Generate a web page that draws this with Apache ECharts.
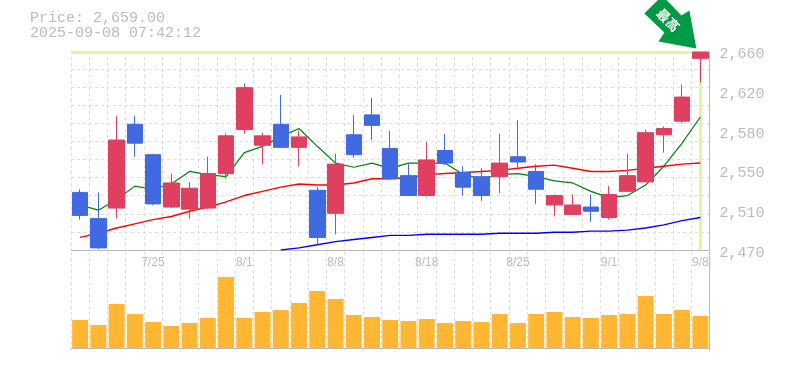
<!DOCTYPE html>
<html>
<head>
<meta charset="utf-8">
<style>html,body{margin:0;padding:0;background:#fff}#c{width:785px;height:370px}</style>
<script src="https://cdn.jsdelivr.net/npm/echarts@6/dist/echarts.min.js"></script>
</head>
<body>
<div id="c"></div>
<script>
const priceTitle = 'Price: 2,659.00';
const timeTitle = '2025-09-08 07:42:12';
const lastPrice = 2659;
const dates = ['7/18','7/22','7/23','7/24','7/25','7/28','7/29','7/30','7/31','8/1','8/4','8/5','8/6','8/7','8/8','8/12','8/13','8/14','8/15','8/18','8/19','8/20','8/21','8/22','8/25','8/26','8/27','8/28','8/29','9/1','9/2','9/3','9/4','9/5','9/8'];
const shownDates = ['7/25','8/1','8/8','8/18','8/25','9/1','9/8'];
// open, close, low, high
const ohlc = [
[2525,2503,2499,2528],[2500,2472,2471,2525],[2510,2575,2500,2598],[2590,2572,2559,2598],[2561,2514,2513,2562],
[2511,2534,2510,2543],[2509,2529,2500,2535],[2510,2543,2509,2559],[2543,2579,2538,2581],[2585,2625,2581,2629],
[2570,2579,2552,2582],[2590,2568,2568,2618],[2568,2578,2550,2584],[2527,2482,2474,2530],[2505,2552,2485,2562],
[2580,2561,2558,2599],[2599,2589,2575,2615],[2567,2538,2538,2584],[2541,2522,2522,2553],[2522,2556,2521,2573],
[2565,2553,2551,2581],[2544,2530,2522,2550],[2540,2522,2517,2548],[2540,2553,2524,2581],[2559,2554,2549,2594],
[2545,2528,2514,2552],[2513,2522,2502,2523],[2504,2513,2504,2523],[2511,2507,2497,2523],[2501,2523,2499,2531],
[2526,2541,2526,2562],[2535,2582,2535,2585],[2580,2586,2563,2588],[2593,2616,2591,2628],[2653,2659,2630,2659]
];
const maShort = [2513,2508,2518,2531,2528,2533,2545,2542,2540,2563,2569,2578,2586,2569,2553,2549,2553,2548,2553,2553,2553,2542,2538,2542,2543,2540,2536,2534,2526,2520,2522,2532,2550,2572,2597];
const maMid = [2482,2486,2491,2495,2499,2502,2507,2511,2516,2522,2526,2530,2533,2532,2532,2534,2538,2538,2539,2542,2543,2544,2545,2546,2548,2550,2551,2548,2545,2545,2546,2548,2550,2552,2553];
const maLong = [null,null,null,null,null,null,null,null,null,null,null,2470,2472,2475,2478,2480,2482,2484,2484,2485,2485,2485,2485,2486,2486,2486,2487,2487,2488,2488,2489,2491,2494,2498,2501];
const volumes = [28000,23000,44000,34000,26000,22000,25000,30000,71000,30000,36000,38000,45000,57000,49000,33000,31000,28000,27000,29000,25000,27000,26000,34000,25000,34000,36000,31000,30000,33000,34000,52000,34000,38000,32000];
const priceTickValues = [2470,2508,2546,2584,2622,2660];
const priceTickLabels = ['2,470','2,510','2,550','2,580','2,620','2,660'];
const arrowText = '最高';

const MONO = '"Liberation Mono","DejaVu Sans Mono",monospace';
const GREY = '#bbb';
const dash = {show:true,interval:0,lineStyle:{color:'#ddd',type:[3,3],width:1}};
const arrowPath = 'path://M644 13L662 -5L681 15L689 10L696 48L658 41L664 32Z';

const chart = echarts.init(document.getElementById('c'),null,{renderer:'canvas'});
chart.setOption({
  animation:false,
  title:{text:priceTitle+'\n'+timeTitle,left:30,top:11,padding:0,
    textStyle:{fontFamily:MONO,fontSize:15,fontWeight:'normal',color:GREY,lineHeight:15}},
  grid:[{left:71,width:638.5,top:51,height:199},{left:71,width:638.5,top:252,height:98}],
  xAxis:[
    {type:'category',gridIndex:0,data:dates,boundaryGap:true,axisTick:{show:false},
     axisLine:{lineStyle:{color:GREY,width:1}},splitLine:dash,
     axisLabel:{interval:0,margin:7,fontFamily:'"Liberation Sans"',fontSize:12,color:GREY,
       formatter:v=>shownDates.includes(v)?v:''}},
    {type:'category',gridIndex:1,data:dates,boundaryGap:true,axisTick:{show:false},
     axisLine:{lineStyle:{color:GREY,width:1}},splitLine:dash,axisLabel:{show:false}}
  ],
  yAxis:[
    {type:'value',gridIndex:0,position:'right',min:2470,max:2660,interval:38,
     axisLine:{show:true,lineStyle:{color:GREY,width:1}},axisTick:{show:false},splitLine:{show:false},
     axisLabel:{margin:10,color:GREY,
       formatter:v=>'{p|'+priceTickLabels[priceTickValues.indexOf(v)]+'}',
       rich:{p:{fontFamily:MONO,fontSize:15,color:GREY,padding:[6,0,0,0]}}}},
    {type:'value',gridIndex:0,position:'left',min:0,max:11,interval:1,
     axisLine:{show:false},axisTick:{show:false},axisLabel:{show:false},splitLine:dash},
    {type:'value',gridIndex:1,position:'right',min:-2000,max:96000,
     axisLine:{show:true,lineStyle:{color:GREY,width:1}},axisTick:{show:false},axisLabel:{show:false},splitLine:{show:false}}
  ],
  series:[
    {type:'line',name:'marker',xAxisIndex:0,yAxisIndex:0,data:[],z:1,silent:true,
     markLine:{silent:true,symbol:'none',label:{show:false},animation:false,z:1,
       lineStyle:{color:'#dff5a0',type:'solid',width:3},
       data:[{yAxis:lastPrice},{xAxis:dates.length-1}]}},
    {type:'line',name:'short',xAxisIndex:0,yAxisIndex:0,data:maShort,symbol:'none',z:2,lineStyle:{color:'#008000',width:1.2}},
    {type:'line',name:'mid',xAxisIndex:0,yAxisIndex:0,data:maMid,symbol:'none',z:2,lineStyle:{color:'#ff0000',width:1.4}},
    {type:'line',name:'long',xAxisIndex:0,yAxisIndex:0,data:maLong,symbol:'none',z:2,lineStyle:{color:'#0000ff',width:1.4}},
    {type:'candlestick',name:'price',xAxisIndex:0,yAxisIndex:0,data:ohlc,barWidth:16,z:3,
     itemStyle:{color:'#e04060',color0:'#4169e1',borderColor:'#e04060',borderColor0:'#4169e1',borderWidth:1},
     markPoint:{silent:true,animation:false,z:5,data:[{
       coord:[dates.length-1,lastPrice],symbol:arrowPath,symbolSize:[52,53],symbolKeepAspect:false,
       symbolOffset:[-30,-30],itemStyle:{color:'#009944'},
       label:{show:true,formatter:arrowText,position:'inside',rotate:-45,color:'#fff',fontSize:13,fontWeight:'bold',
         fontFamily:'"Noto Sans CJK JP"',offset:[-3,0]}
     }]}},
    {type:'bar',name:'volume',xAxisIndex:1,yAxisIndex:2,data:volumes,barWidth:16,itemStyle:{color:'#ffb733'}}
  ]
});
</script>
</body>
</html>
